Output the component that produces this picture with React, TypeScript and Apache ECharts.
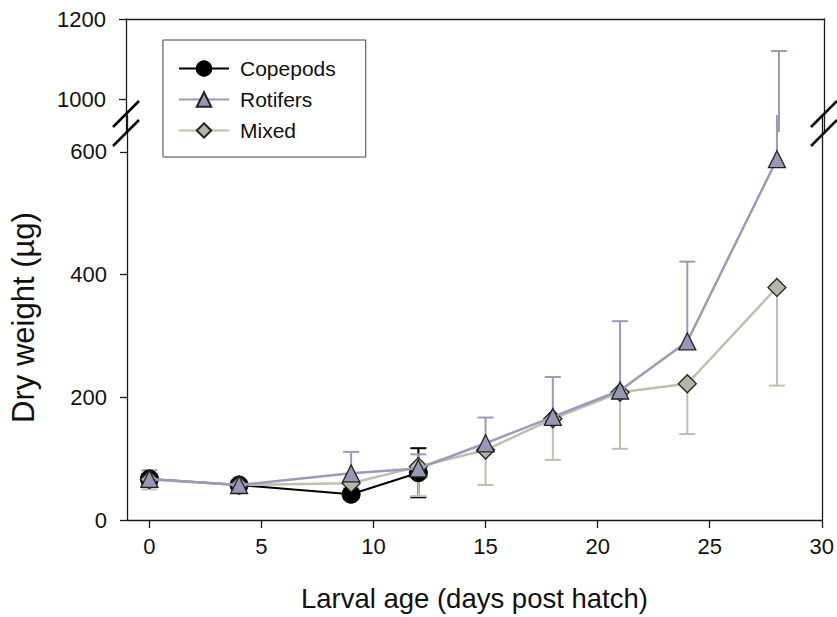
import React, { useEffect, useRef } from "react";
import * as echarts from "echarts";

// ---- data ----
const days = [0, 4, 9, 12, 15, 18, 21, 24, 28];
const copepodDays = [0, 4, 9, 12];
const copepods = [67, 57, 42, 77];
const copepodsErr = [8, 5, 8, 40];
const rotifers = [67, 57, 76, 84, 125, 168, 211, 291, 588];
const rotifersUpper = [81, 63, 111, 107, 167, 233, 324, 421, 1120];
const mixed = [66, 57, 60, 87, 114, 165, 208, 222, 379];
const mixedLower = [50, 51, 52, 39, 57, 98, 116, 140, 219];
const xTicks = [0, 5, 10, 15, 20, 25, 30];
const yTicksLow = [0, 200, 400, 600];
const yTicksHigh = [1000, 1200];
const seriesNames = ["Copepods", "Rotifers", "Mixed"];

const FONT = "Liberation Sans, Arial, sans-serif";
const C_COP = "#000000";
const C_ROT = "#9a9abb";
const C_ROT_FILL = "#9898b6";
const C_MIX = "#bfbfb0";
const C_MIX_FILL = "#b6b6a8";

const LOW_MAX = 660;
const HIGH_MIN = 917.5;
const HIGH_MAX = 1200;

// error bar segments: [x, from, to] with cap at "to"
const copErrData: number[][] = [];
copepodDays.forEach((d, i) => {
  copErrData.push([d, copepods[i], copepods[i] + copepodsErr[i]]);
  copErrData.push([d, copepods[i], copepods[i] - copepodsErr[i]]);
});
const rotErrData = days.map((d, i) => [d, rotifers[i], rotifersUpper[i]]);
const mixErrData = days.map((d, i) => [d, mixed[i], mixedLower[i]]);

function errRender(color: string, yMin: number, yMax: number) {
  return (params: any, api: any) => {
    const x = api.value(0);
    const a = api.value(1);
    const b = api.value(2);
    const lo = Math.min(a, b);
    const hi = Math.max(a, b);
    if (hi < yMin || lo > yMax) return null;
    const p1 = api.coord([x, Math.max(lo, yMin)]);
    const p2 = api.coord([x, Math.min(hi, yMax)]);
    const children: any[] = [
      {
        type: "line",
        shape: { x1: p1[0], y1: p1[1], x2: p2[0], y2: p2[1] },
        style: { stroke: color, lineWidth: 2 },
      },
    ];
    if (b >= yMin && b <= yMax) {
      const pc = api.coord([x, b]);
      children.push({
        type: "line",
        shape: { x1: pc[0] - 8, y1: pc[1], x2: pc[0] + 8, y2: pc[1] },
        style: { stroke: color, lineWidth: 2 },
      });
    }
    return { type: "group", children };
  };
}

function errSeries(name: string, data: number[][], color: string, grid: number) {
  const yMin = grid === 0 ? 0 : HIGH_MIN;
  const yMax = grid === 0 ? LOW_MAX : HIGH_MAX;
  return {
    type: "custom",
    name: name + "_err" + grid,
    xAxisIndex: grid,
    yAxisIndex: grid === 0 ? 0 : 2,
    data,
    z: 1,
    silent: true,
    renderItem: errRender(color, yMin, yMax),
  };
}

const axisLineStyle = { color: "#1a1a1a", width: 1.3 };
const plainFmt = (v: number) => String(v);

export default function App() {
  const ref = useRef<HTMLDivElement>(null);
  useEffect(() => {
    if (!ref.current) return;
    const chart = echarts.init(ref.current, null, { renderer: "svg" });
    const slash = (x1: number, y1: number, x2: number, y2: number) => ({
      type: "line",
      shape: { x1, y1, x2, y2 },
      style: { stroke: "#000", lineWidth: 2.5 },
      z: 10,
    });
    chart.setOption({
      animation: false,
      backgroundColor: "#ffffff",
      textStyle: { fontFamily: FONT },
      legend: {
        orient: "vertical",
        left: 163,
        top: 40,
        padding: [18, 30, 16, 15],
        itemGap: 10,
        itemWidth: 50,
        itemHeight: 18,
        borderColor: "#444",
        borderWidth: 1,
        data: seriesNames,
        textStyle: { fontSize: 21, color: "#111", fontFamily: FONT, padding: [0, 0, 0, 6] },
      },
      grid: [
        { left: 126, right: 13, top: 115, bottom: 97 },
        { left: 126, right: 13, top: 19, bottom: 485 },
      ],
      xAxis: [
        {
          type: "value",
          gridIndex: 0,
          min: -1,
          max: 30,
          splitLine: { show: false },
          axisLine: { onZero: false, lineStyle: axisLineStyle },
          axisTick: { length: 8, lineStyle: axisLineStyle, customValues: xTicks },
          axisLabel: { fontSize: 22, color: "#111", margin: 15, customValues: xTicks, fontFamily: FONT, formatter: plainFmt },
          name: "Larval age (days post hatch)",
          nameLocation: "middle",
          nameGap: 64,
          nameTextStyle: { fontSize: 27.5, color: "#111", fontFamily: FONT },
        },
        {
          type: "value",
          gridIndex: 1,
          position: "top",
          min: -1,
          max: 30,
          splitLine: { show: false },
          axisLine: { onZero: false, lineStyle: axisLineStyle },
          axisTick: { show: false },
          axisLabel: { show: false },
        },
      ],
      yAxis: [
        {
          type: "value",
          gridIndex: 0,
          position: "left",
          min: 0,
          max: LOW_MAX,
          splitLine: { show: false },
          axisLine: { show: true, onZero: false, lineStyle: axisLineStyle },
          axisTick: { show: true, length: 7, lineStyle: axisLineStyle, customValues: yTicksLow },
          axisLabel: { fontSize: 22, color: "#111", margin: 20, customValues: yTicksLow, fontFamily: FONT, formatter: plainFmt },
          name: "Dry weight (\u00b5g)",
          nameLocation: "middle",
          nameGap: 88,
          nameTextStyle: { fontSize: 31, color: "#111", fontFamily: FONT },
        },
        {
          type: "value",
          gridIndex: 0,
          position: "right",
          min: 0,
          max: LOW_MAX,
          splitLine: { show: false },
          axisLine: { show: true, onZero: false, lineStyle: axisLineStyle },
          axisTick: { show: false },
          axisLabel: { show: false },
        },
        {
          type: "value",
          gridIndex: 1,
          position: "left",
          min: HIGH_MIN,
          max: HIGH_MAX,
          splitLine: { show: false },
          axisLine: { show: true, onZero: false, lineStyle: axisLineStyle },
          axisTick: { show: true, length: 7, lineStyle: axisLineStyle, customValues: yTicksHigh },
          axisLabel: { fontSize: 22, color: "#111", margin: 20, customValues: yTicksHigh, fontFamily: FONT, formatter: plainFmt },
        },
        {
          type: "value",
          gridIndex: 1,
          position: "right",
          min: HIGH_MIN,
          max: HIGH_MAX,
          splitLine: { show: false },
          axisLine: { show: true, onZero: false, lineStyle: axisLineStyle },
          axisTick: { show: false },
          axisLabel: { show: false },
        },
      ],
      graphic: [
        slash(113, 127, 139, 101),
        slash(113, 146, 139, 120),
        slash(811, 127, 837, 101),
        slash(811, 146, 837, 120),
      ],
      series: [
        errSeries("Copepods", copErrData, C_COP, 0),
        errSeries("Mixed", mixErrData, C_MIX, 0),
        errSeries("Rotifers", rotErrData, C_ROT, 0),
        errSeries("Rotifers", rotErrData, C_ROT, 1),
        {
          type: "line",
          name: "Copepods",
          xAxisIndex: 0,
          yAxisIndex: 0,
          data: copepodDays.map((d, i) => [d, copepods[i]]),
          symbol: "circle",
          symbolSize: 18,
          lineStyle: { color: C_COP, width: 2 },
          itemStyle: { color: C_COP, borderColor: "#000", borderWidth: 1 },
          z: 2,
        },
        {
          type: "line",
          name: "Mixed",
          xAxisIndex: 0,
          yAxisIndex: 0,
          data: days.map((d, i) => [d, mixed[i]]),
          symbol: "diamond",
          symbolSize: 18,
          lineStyle: { color: C_MIX, width: 2.5 },
          itemStyle: { color: C_MIX_FILL, borderColor: "#222", borderWidth: 1.3 },
          z: 3,
        },
        {
          type: "line",
          name: "Rotifers",
          xAxisIndex: 0,
          yAxisIndex: 0,
          data: days.map((d, i) => [d, rotifers[i]]),
          symbol: "triangle",
          symbolSize: 17,
          lineStyle: { color: C_ROT, width: 2.5 },
          itemStyle: { color: C_ROT_FILL, borderColor: "#222", borderWidth: 1.3 },
          z: 4,
        },
      ],
    });
    return () => chart.dispose();
  }, []);
  return <div ref={ref} style={{ width: 837, height: 617, position: "absolute", left: 0, top: 0 }} />;
}
